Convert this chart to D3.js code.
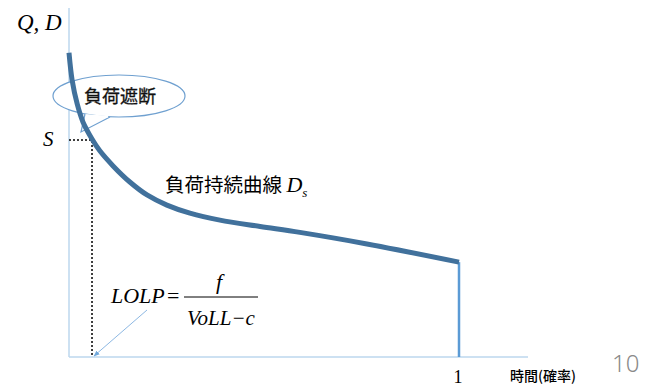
<!DOCTYPE html>
<html>
<head>
<meta charset="utf-8">
<script src="https://cdn.jsdelivr.net/npm/d3@7"></script>
<style>
body { margin: 0; background: #fff; }
</style>
</head>
<body>
<div id="chart"></div>
<script>
var w = 647;
var h = 388;

// load duration curve, time share (0..1) vs demand
var curveX = [0, 0.008, 0.021, 0.036, 0.059, 0.079, 0.113, 0.156, 0.2, 0.251, 0.31, 0.387, 0.49, 0.592, 0.764, 1];
var curveY = [86.9, 79.1, 72.3, 67.1, 62.3, 58.9, 54.6, 50.0, 46.3, 43.4, 41.1, 39.1, 37.3, 35.6, 32.3, 27.1];
var supplyS = 62;
var lolpX = 0.059;

var x = d3.scaleLinear().domain([0, 1]).range([69, 459]);
var y = d3.scaleLinear().domain([0, 100]).range([357, 7]);

var svg = d3.select("#chart")
    .append("svg")
    .attr("width", w)
    .attr("height", h);

var defs = svg.append("defs");
defs.append("marker")
    .attr("id", "arr")
    .attr("viewBox", "0 0 10 10")
    .attr("refX", 9)
    .attr("refY", 5)
    .attr("markerWidth", 6)
    .attr("markerHeight", 6)
    .attr("orient", "auto")
    .append("path")
    .attr("d", "M0,1 L10,5 L0,9 z")
    .style("fill", "#6fa8dc");

// axes
svg.append("line")
    .attr("x1", x(0)).attr("x2", x(0))
    .attr("y1", 8).attr("y2", y(0))
    .style("stroke", "#bdd7ee")
    .style("stroke-width", 1.5);
svg.append("line")
    .attr("x1", x(0)).attr("x2", 528)
    .attr("y1", y(0)).attr("y2", y(0))
    .style("stroke", "#bdd7ee")
    .style("stroke-width", 1.5);

// dotted S lines
svg.append("path")
    .attr("d", "M" + x(0) + "," + y(supplyS) + "H" + x(lolpX) + "V" + y(0))
    .style("fill", "none")
    .style("stroke", "#000")
    .style("stroke-width", 1.5)
    .style("stroke-dasharray", "2,2");

// callout (under the curve)
svg.append("ellipse")
    .attr("cx", 119).attr("cy", 96)
    .attr("rx", 66).attr("ry", 21)
    .style("fill", "#fff")
    .style("stroke", "#6fa0d0")
    .style("stroke-width", 1.2);
svg.append("path")
    .attr("d", "M85,114 L81,132 L110,117")
    .style("fill", "#fff")
    .style("stroke", "#6fa0d0")
    .style("stroke-width", 1.2);
svg.append("path")
    .attr("d", "M86.5,115.5 L108,116.5")
    .style("stroke", "#fff")
    .style("stroke-width", 2);

// vertical drop at 1
svg.append("line")
    .attr("x1", x(1)).attr("x2", x(1))
    .attr("y1", y(curveY[curveY.length - 1])).attr("y2", y(0))
    .style("stroke", "#5b9bd5")
    .style("stroke-width", 2.5);

var line = d3.line()
    .x(function(d, i) { return x(curveX[i]); })
    .y(function(d) { return y(d); })
    .curve(d3.curveCatmullRom.alpha(0.5));

svg.append("path")
    .datum(curveY)
    .attr("d", line)
    .style("fill", "none")
    .style("stroke", "#41719c")
    .style("stroke-width", 5);

svg.append("text")
    .attr("x", 120).attr("y", 103)
    .attr("text-anchor", "middle")
    .style("font-family", "Noto Sans CJK JP")
    .style("font-size", "18px")
    .style("fill", "#111")
    .style("stroke", "#111")
    .style("stroke-width", 0.3)
    .text("負荷遮断");

var serif = "Liberation Serif";

svg.append("text")
    .attr("x", 17).attr("y", 30)
    .style("font-family", serif)
    .style("font-style", "italic")
    .style("font-size", "23px")
    .text("Q, D");

svg.append("text")
    .attr("x", 43).attr("y", 146)
    .style("font-family", serif)
    .style("font-style", "italic")
    .style("font-size", "21px")
    .text("S");

var lab = svg.append("text")
    .attr("x", 165).attr("y", 192)
    .style("font-family", "Noto Sans CJK JP")
    .style("font-size", "19.5px")
    .text("負荷持続曲線 ");
lab.append("tspan")
    .style("font-family", serif)
    .style("font-style", "italic")
    .style("font-size", "22px")
    .text("D");
lab.append("tspan")
    .attr("dy", 5)
    .style("font-family", serif)
    .style("font-style", "italic")
    .style("font-size", "13px")
    .text("s");

// LOLP formula
svg.append("text")
    .attr("x", 111).attr("y", 303)
    .style("font-family", serif)
    .style("font-style", "italic")
    .style("font-size", "22px")
    .text("LOLP");
svg.append("text")
    .attr("x", 167).attr("y", 303)
    .style("font-family", serif)
    .style("font-size", "22px")
    .text("=");
svg.append("line")
    .attr("x1", 184).attr("x2", 258)
    .attr("y1", 297).attr("y2", 297)
    .style("stroke", "#000")
    .style("stroke-width", 1);
svg.append("text")
    .attr("x", 219).attr("y", 289)
    .attr("text-anchor", "middle")
    .style("font-family", serif)
    .style("font-style", "italic")
    .style("font-size", "22px")
    .text("f");
svg.append("text")
    .attr("x", 221).attr("y", 325)
    .attr("text-anchor", "middle")
    .style("font-family", serif)
    .style("font-style", "italic")
    .style("font-size", "21px")
    .text("VoLL\u2212c");

// arrow to LOLP point
svg.append("line")
    .attr("x1", 147).attr("y1", 310)
    .attr("x2", x(lolpX) + 2).attr("y2", y(0) - 1)
    .style("stroke", "#8db8e3")
    .style("stroke-width", 1)
    .attr("marker-end", "url(#arr)");

// x labels
svg.append("text")
    .attr("x", x(1) - 1).attr("y", 383)
    .attr("text-anchor", "middle")
    .style("font-family", serif)
    .style("font-size", "18px")
    .text("1");
svg.append("text")
    .attr("x", 510).attr("y", 381)
    .style("font-family", "Noto Sans CJK JP")
    .style("font-size", "14px")
    .style("font-weight", "500")
    .text("時間(確率)");
svg.append("text")
    .attr("x", 612).attr("y", 372)
    .style("font-family", "Noto Sans")
    .style("font-weight", "300")
    .style("font-size", "24px")
    .style("fill", "#8a8a8a")
    .text("10");
</script>
</body>
</html>
